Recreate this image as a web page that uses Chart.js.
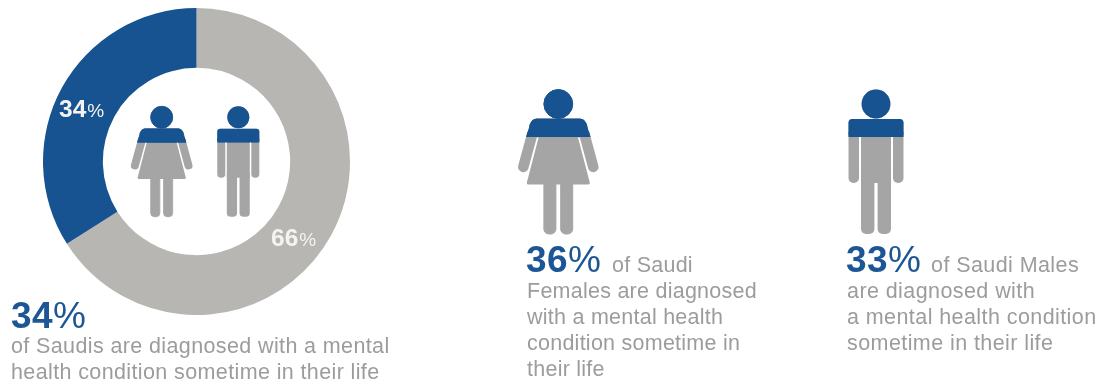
<!DOCTYPE html>
<html>
<head>
<meta charset="utf-8">
<title>Mental health diagnosis among Saudis</title>
<script src="https://cdn.jsdelivr.net/npm/chart.js@4"></script>
<style>
    html, body { margin: 0; padding: 0; background: #fff; }
    body { position: relative; width: 1100px; height: 388px; overflow: hidden; font-family: "Liberation Sans", Arial, sans-serif; }
    #ring { position: absolute; left: 43px; top: 8px; }
    #figures { position: absolute; left: 0; top: 0; }
    .txt { position: absolute; white-space: nowrap; color: #9c9c9c; font-size: 21.5px; line-height: 26px; }
    .big { color: #1c5694; font-weight: bold; font-size: 37px; line-height: 36px; letter-spacing: 0.4px; }
    .big small { font-size: 37px; font-weight: normal; }
    .inring { position: absolute; color: #f3f3f1; font-size: 24.5px; line-height: 24px; font-weight: bold; white-space: nowrap; }
    .inring small { font-size: 19px; font-weight: normal; margin-left: 1px; letter-spacing: 1px; }
    .left { letter-spacing: 0.38px; }
    .middle { letter-spacing: 0.25px; }
    .right { letter-spacing: 0.42px; }
</style>
</head>
<body>
<canvas id="ring" width="307" height="307"></canvas>

<svg id="figures" width="1100" height="388" xmlns="http://www.w3.org/2000/svg">
    <defs>
        <clipPath id="band"><rect x="-60" y="-20" width="120" height="53"></rect></clipPath>
        <g id="woman">
            <circle cx="0" cy="0" r="14.4"></circle>
            <path d="M-22 15 H22 Q26 15 28 20 L31 33 H-31 L-28 20 Q-26 15 -22 15 Z"></path>
            <path d="M26 30 L35 63 M-26 30 L-35 63" stroke-width="10.5" stroke-linecap="round" fill="none" style="stroke:inherit"></path>
            <path d="M-18 33 H18 L30 79 H-30 Z" stroke-width="3" stroke-linejoin="round" style="stroke:inherit"></path>
            <rect x="-14.4" y="76" width="12" height="54" rx="5"></rect>
            <rect x="2.4" y="76" width="12" height="54" rx="5"></rect>
        </g>
        <g id="man">
            <circle cx="0" cy="0" r="14.4"></circle>
            <rect x="-27.5" y="15" width="55" height="18" rx="4"></rect>
            <rect x="-27.5" y="25" width="10.5" height="54" rx="5"></rect>
            <rect x="17" y="25" width="10.5" height="54" rx="5"></rect>
            <rect x="-15" y="25" width="30" height="54"></rect>
            <rect x="-15" y="70" width="13.4" height="60" rx="5"></rect>
            <rect x="1.6" y="70" width="13.4" height="60" rx="5"></rect>
        </g>
    </defs>
    <g transform="translate(161.7 117.3) scale(0.765)">
        <use href="#woman" fill="#a5a5a5" style="stroke:#a5a5a5"></use>
        <g clip-path="url(#band)"><use href="#woman" fill="#175391" style="stroke:#175391"></use></g>
    </g>
    <g transform="translate(238.3 117.3) scale(0.765)">
        <use href="#man" fill="#a5a5a5"></use>
        <g clip-path="url(#band)"><use href="#man" fill="#175391"></use></g>
    </g>
    <g transform="translate(558.3 104)">
        <use href="#woman" fill="#a5a5a5" style="stroke:#a5a5a5"></use>
        <g clip-path="url(#band)"><use href="#woman" fill="#175391" style="stroke:#175391"></use></g>
    </g>
    <g transform="translate(876 104)">
        <use href="#man" fill="#a5a5a5"></use>
        <g clip-path="url(#band)"><use href="#man" fill="#175391"></use></g>
    </g>
</svg>

<div class="inring" id="lblSaudis" style="left:59px;top:97px"></div>
<div class="inring" id="lblOthers" style="left:271px;top:226px"></div>

<div class="txt big" id="pctSaudis" style="left:11px;top:298px"></div>
<div class="txt left" style="left:11px;top:333px">of Saudis are diagnosed with a mental</div>
<div class="txt left" style="left:11px;top:359px">health condition sometime in their life</div>

<div class="txt big" id="pctFemales" style="left:526px;top:242px"></div>
<div class="txt middle" style="left:612px;top:252px">of Saudi</div>
<div class="txt middle" style="left:527px;top:278px">Females are diagnosed</div>
<div class="txt middle" style="left:527px;top:304px">with a mental health</div>
<div class="txt middle" style="left:527px;top:330px">condition sometime in</div>
<div class="txt middle" style="left:527px;top:356px">their life</div>

<div class="txt big" id="pctMales" style="left:846px;top:242px"></div>
<div class="txt right" style="left:931px;top:252px">of Saudi Males</div>
<div class="txt right" style="left:847px;top:278px">are diagnosed with</div>
<div class="txt right" style="left:847px;top:304px">a mental health condition</div>
<div class="txt right" style="left:847px;top:330px">sometime in their life</div>

<script>
    // share of people with a diagnosis
    const ringLabels = ['Not diagnosed', 'Diagnosed'];
    const ringValues = [66, 34];
    const ringColors = ['#b7b6b2', '#175391'];
    const femaleShare = 36;
    const maleShare = 33;

    const withSign = (v) => v + '<small>%</small>';
    document.getElementById('lblSaudis').innerHTML = withSign(ringValues[1]);
    document.getElementById('lblOthers').innerHTML = withSign(ringValues[0]);
    document.getElementById('pctSaudis').innerHTML = withSign(ringValues[1]);
    document.getElementById('pctFemales').innerHTML = withSign(femaleShare);
    document.getElementById('pctMales').innerHTML = withSign(maleShare);

    new Chart(document.getElementById('ring'), {
        type: 'doughnut',
        data: {
            labels: ringLabels,
            datasets: [{
                data: ringValues,
                backgroundColor: ringColors,
                borderWidth: 0,
            }],
        },
        options: {
            responsive: false,
            animation: false,
            cutout: '61%',
            plugins: {
                legend: false,
                tooltip: false,
            },
        },
    });
</script>
</body>
</html>
